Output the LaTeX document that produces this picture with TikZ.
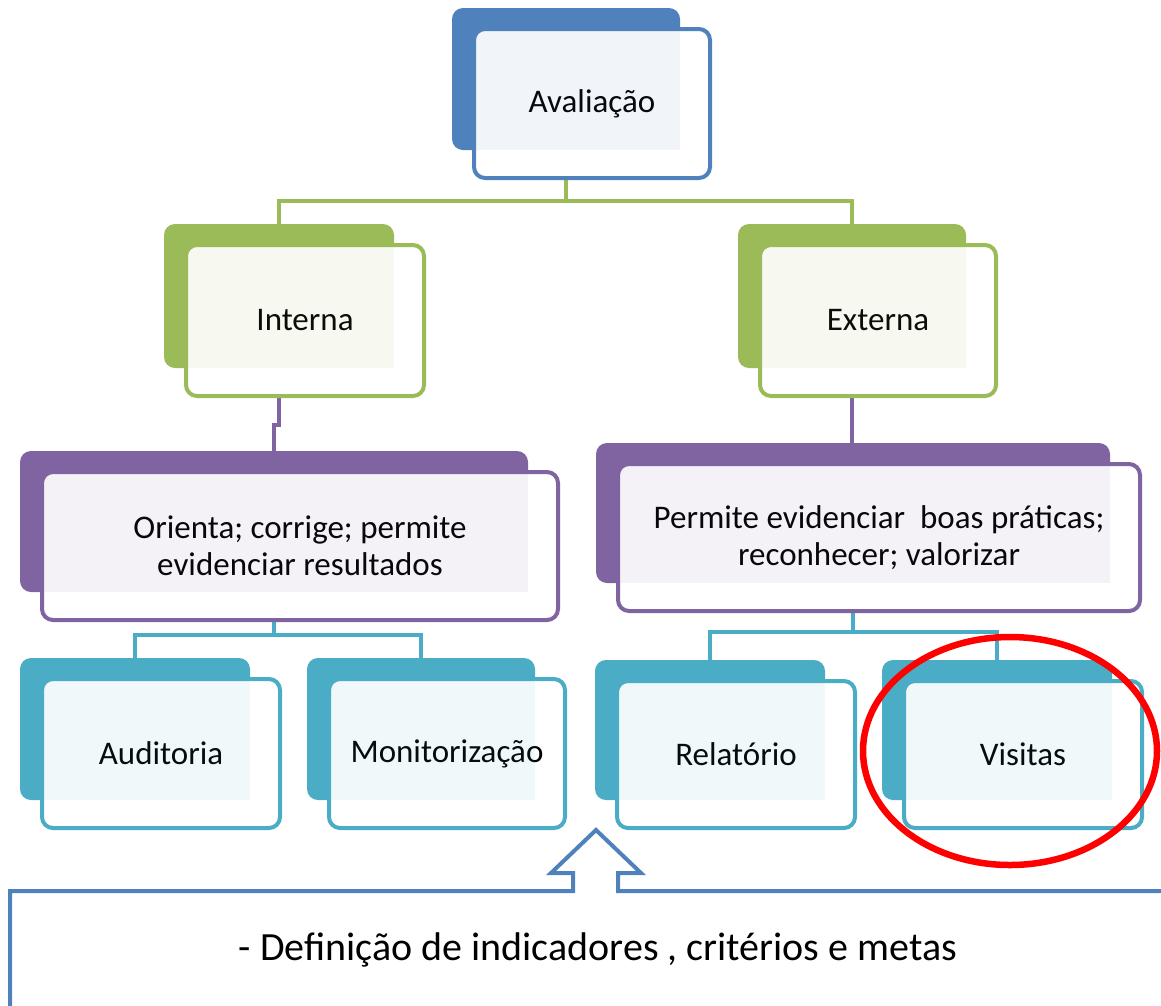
\documentclass[tikz,border=0pt]{standalone}
\usepackage{fontspec}
\setmainfont{Carlito}
\usetikzlibrary{shapes.geometric,calc,backgrounds}
\definecolor{cblue}{HTML}{4F81BD}
\definecolor{cgreen}{HTML}{9BBB59}
\definecolor{cpurple}{HTML}{8064A2}
\definecolor{cteal}{HTML}{4BACC6}
\newcommand\pairbox[7]{%
  \pgfmathsetmacro\bw{#5-#3}\pgfmathsetmacro\bh{#6-#4}%
  \pgfmathsetmacro\bcx{(#3+#5)/2}\pgfmathsetmacro\bcy{(#4+#6)/2}%
  \pgfmathsetmacro\fw{\bw+8}\pgfmathsetmacro\fh{\bh+7}%
  \pgfmathsetmacro\fcx{\bcx+26}\pgfmathsetmacro\fcy{\bcy+24.5}%
  \node[backbox, fill=#2, minimum width=\bw pt, minimum height=\bh pt] (#1b) at (\bcx,\bcy) {};
  \node[frontbox, draw=#2, minimum width=\fw pt, minimum height=\fh pt] (#1) at (\fcx,\fcy) {#7};
  \fill[#2, fill opacity=0.08] ([shift={(3,3)}]#1.north west) rectangle (#1b.south east);
}
\begin{document}
\begin{tikzpicture}[x=1pt,y=-1pt,
  backbox/.style={rectangle, rounded corners=11pt, draw=none, inner sep=0pt},
  frontbox/.style={rectangle, rounded corners=11pt, fill=white, line width=4pt,
    inner sep=0pt, align=center, font=\fontsize{33}{37}\selectfont},
  conn/.style={line width=4.5pt},
]
\useasboundingbox (0,0) rectangle (1161,1005);
\clip (0,0) rectangle (1161,1005);

% --- boxes ---
\pairbox{aval}{cblue}{452}{8}{680}{150}{Avaliação}
\pairbox{int}{cgreen}{164}{224}{394}{368}{Interna}
\pairbox{ext}{cgreen}{738}{224}{966}{368}{Externa}
\pairbox{ori}{cpurple}{20}{451}{528}{592}{Orienta; corrige; permite\\evidenciar resultados}
\pairbox{per}{cpurple}{596}{443}{1110}{583}{Permite evidenciar\ \ boas práticas;\\reconhecer; valorizar}
\pairbox{aud}{cteal}{20}{658}{250}{800}{Auditoria}
\pairbox{mon}{cteal}{307}{658}{535}{800}{Monitorização}
\pairbox{rel}{cteal}{595}{660}{825}{800}{Relatório}
\pairbox{vis}{cteal}{882}{660}{1112}{800}{Visitas}

% --- connectors (under the boxes) ---
\begin{scope}[on background layer]
\fill[white] (0,0) rectangle (1161,1005);
\draw[conn, cgreen] (intb.north) -- ++(0,-23) -| (avalb.south);
\draw[conn, cgreen] (extb.north) -- ++(0,-23) -| (avalb.south);
\draw[conn, cpurple] (orib.north) -- ++(0,-26) -| (intb.south);
\draw[conn, cpurple] (extb.south) -- (extb.south |- perb.north);
\draw[conn, cteal] (audb.north) -- ++(0,-23) -| (orib.south);
\draw[conn, cteal] (monb.north) -- ++(0,-23) -| (orib.south);
\draw[conn, cteal] (relb.north) -- ++(0,-28) -| (perb.south);
\draw[conn, cteal] (visb.north) -- ++(0,-28) -| (perb.south);
\end{scope}

% --- red ellipse ---
\node[draw=red, line width=6.5pt, ellipse, minimum width=294pt, minimum height=228pt, inner sep=0pt] (circ) at (1010,751) {};

% --- bottom callout with up arrow ---
\draw[cblue, line width=4pt, line join=miter]
  (10,1030) -- (10,891) -- (573,891) -- (573,873) -- (551,873) -- (596,830)
  -- (641,873) -- (618,873) -- (618,891) -- (1180,891);
\node[font=\fontsize{40}{48}\selectfont] (defn) at (598,950) {- Definição de indicadores , critérios e metas};
\end{tikzpicture}
\end{document}
